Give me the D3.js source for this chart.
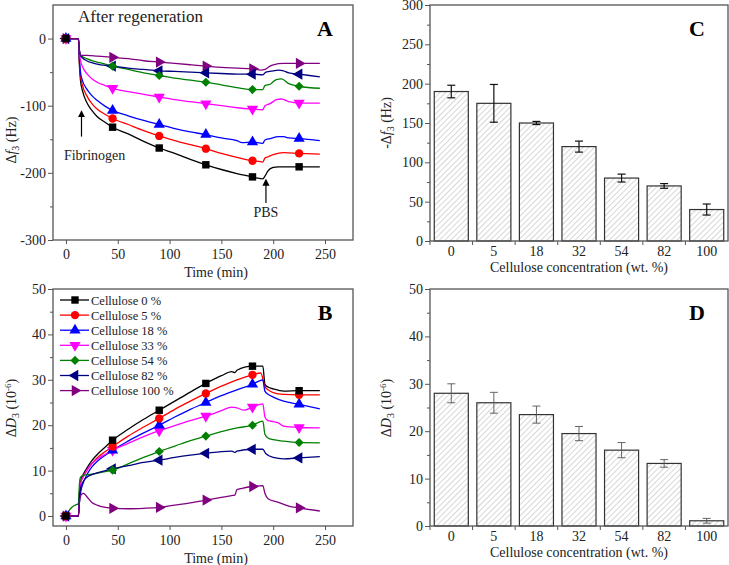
<!DOCTYPE html>
<html lang="en">
<head>
<meta charset="UTF-8">
<script src="https://d3js.org/d3.v7.min.js"></script>
<title>QCM-D after regeneration</title>
<style>
  body { margin: 0; background: #fff; }
  svg, svg text { font-family: "Liberation Serif", "Times New Roman", Times, "DejaVu Serif", serif; }
</style>
</head>
<body>
<div id="wrapper"></div>
<script>
// ---- data ----
const seriesNames = ["Cellulose 0 %", "Cellulose 5 %", "Cellulose 18 %", "Cellulose 33 %",
                     "Cellulose 54 %", "Cellulose 82 %", "Cellulose 100 %"];
const seriesColors = ["#000000", "#ff0000", "#0000ff", "#ff00ff", "#008000", "#000080", "#800080"];
const seriesSymbols = ["square", "circle", "triUp", "triDown", "diamond", "triLeft", "triRight"];
const markerTimes = [0, 45, 90, 135, 180, 225];

// panel A: delta f3 (Hz) vs time (min)
const freq0 = [[0,0],[12,0],[13,-40],[14,-62],[16,-78],[20,-95],[25,-107],[30,-116],[38,-125],[45,-132],[60,-142],[75,-153],[90,-163],[105,-171],[120,-180],[135,-188],[150,-195],[165,-201],[180,-206],[185,-208],[190,-209],[192,-205],[195,-197],[200,-192],[205,-191],[225,-191],[245,-191]];
const freq5 = [[0,0],[12,0],[13,-35],[14,-55],[16,-70],[20,-85],[25,-97],[30,-105],[38,-113],[45,-119],[60,-128],[75,-137],[90,-145],[105,-152],[120,-158],[135,-164],[150,-171],[165,-177],[180,-182],[186,-183],[190,-184],[192,-178],[195,-176],[200,-173],[210,-170],[225,-171],[245,-172]];
const freq18 = [[0,0],[12,0],[13,-30],[14,-50],[16,-63],[20,-75],[25,-85],[30,-92],[38,-101],[45,-107],[60,-115],[75,-122],[90,-128],[105,-134],[120,-139],[135,-143],[150,-148],[165,-152],[170,-155],[180,-154],[190,-156],[192,-151],[197,-149],[205,-146],[210,-146],[215,-148],[225,-149],[245,-152]];
const freq33 = [[0,0],[12,0],[13,-20],[14,-32],[16,-42],[20,-52],[25,-60],[30,-65],[38,-70],[45,-74],[60,-79],[75,-83],[90,-87],[105,-91],[120,-94],[135,-97],[150,-100],[165,-103],[180,-105],[190,-106],[192,-100],[197,-97],[203,-91],[208,-90],[215,-94],[225,-96],[245,-96]];
const freq54 = [[0,0],[12,0],[13,-18],[14,-25],[16,-27],[20,-30],[25,-33],[30,-35],[38,-38],[45,-41],[60,-46],[75,-51],[90,-55],[105,-59],[120,-62],[135,-65],[150,-69],[165,-73],[180,-76],[190,-76],[192,-70],[197,-68],[203,-61],[208,-60],[215,-67],[225,-71],[245,-74]];
const freq82 = [[0,0],[12,0],[13,-18],[14,-25],[16,-29],[20,-33],[25,-36],[30,-38],[38,-40],[45,-41],[60,-44],[75,-46],[90,-48],[105,-49],[120,-50],[135,-51],[150,-52],[165,-53],[180,-53],[190,-54],[193,-50],[200,-48],[205,-47],[210,-48],[215,-51],[225,-53],[245,-57]];
const freq100 = [[0,0],[12,0],[13,-18],[14,-24],[16,-25],[20,-25],[30,-26],[45,-28],[60,-30],[75,-33],[90,-35],[105,-37],[120,-39],[135,-41],[150,-43],[165,-44],[180,-45],[188,-47],[192,-46],[196,-42],[200,-39],[210,-37],[225,-37],[245,-37]];

// panel B: delta D3 (1e-6) vs time (min)
const diss0 = [[0,0],[12,0],[13,5],[14,7.5],[17,9.3],[20,10.5],[25,12.2],[30,13.5],[38,15.2],[45,16.7],[60,19.1],[75,21.3],[90,23.3],[105,25.3],[120,27.3],[135,29.2],[150,30.9],[160,31.8],[163,31.6],[165,32.1],[180,33.0],[190,33.0],[192,29],[195,28.4],[200,28],[210,27.5],[225,27.6],[245,27.6]];
const diss5 = [[0,0],[12,0],[13,5],[14,7.3],[17,8.8],[20,10],[25,11.6],[30,12.8],[38,14.2],[45,15.3],[60,17.6],[75,19.6],[90,21.5],[105,23.5],[120,25.3],[135,27],[150,28.6],[165,30],[180,31.1],[188,31.5],[192,28.5],[195,27.8],[200,27.2],[210,26.8],[225,26.7],[245,26.7]];
const diss18 = [[0,0],[12,0],[13,3],[14,5],[17,7.5],[20,9],[25,10.8],[30,12],[38,13.4],[45,14.5],[60,16.5],[75,18.3],[90,20],[105,21.8],[120,23.5],[135,25],[150,26.5],[165,27.8],[180,29],[190,30],[192,27.5],[195,26.8],[200,26.2],[210,25.3],[225,24.6],[245,23.6]];
const diss33 = [[0,0],[12,0],[13,5],[14,7],[17,8.8],[20,10],[25,11.5],[30,12.5],[38,13.6],[45,14.5],[60,16],[75,17.5],[90,18.8],[105,19.9],[120,21],[135,22],[150,23.2],[160,24],[165,23.8],[172,23.3],[180,24],[190,24.7],[192,21.8],[195,21],[200,20.8],[205,20.5],[210,19.8],[225,19.5],[245,19.4]];
const diss54 = [[0,0],[3,1.2],[6,2],[10,2.5],[12,2.7],[13,7],[14,8.5],[17,9],[25,9.2],[30,9.4],[38,9.8],[45,10.1],[60,11.5],[75,12.9],[90,14.2],[105,15.4],[120,16.6],[135,17.6],[150,18.6],[165,19.4],[180,20],[190,20.9],[192,18],[195,17.2],[200,16.8],[210,16.5],[225,16.2],[245,16.1]];
const diss82 = [[0,0],[12,0],[13,4],[14,6],[17,7.7],[20,8.5],[25,9.1],[30,9.5],[38,10],[45,10.4],[60,11.1],[75,11.8],[90,12.3],[105,12.9],[120,13.4],[135,13.8],[150,14.2],[160,14.3],[163,14],[165,14.3],[180,14.7],[190,14.7],[193,13.7],[200,12.9],[210,12.6],[225,12.8],[245,13.1]];
const diss100 = [[0,0],[12,0],[13,3],[15,4.8],[17,5],[20,4.3],[25,3],[30,2.4],[38,1.9],[45,1.7],[60,1.6],[75,1.7],[90,1.9],[105,2.4],[120,2.9],[135,3.5],[150,4.1],[160,4.5],[163,4.6],[165,5.8],[170,6.1],[180,6.5],[190,6.7],[192,5],[195,3.8],[205,3],[215,2.2],[225,1.8],[245,1.1]];

// panels C and D: bars
const barCategories = ["0", "5", "18", "32", "54", "82", "100"];
const freqShift = [190, 175, 150, 120, 80, 70, 40];
const freqErr = [8, 24, 2, 7, 5, 3, 7];
const dissShift = [28, 26, 23.5, 19.5, 16, 13.2, 1.1];
const dissErr = [2, 2.2, 1.8, 1.5, 1.6, 0.8, 0.5];

const timeTicks = [0, 50, 100, 150, 200, 250];

const FONT = '"Liberation Serif", "Times New Roman", Times, "DejaVu Serif", serif';

const svg = d3.select("#wrapper").append("svg")
  .attr("width", 729).attr("height", 565)
  .attr("font-family", FONT);

// hatch pattern for bars
svg.append("defs").append("pattern")
  .attr("id", "hatch").attr("patternUnits", "userSpaceOnUse")
  .attr("width", 4).attr("height", 4)
  .attr("patternTransform", "rotate(45)")
  .append("line")
    .attr("x1", 0).attr("y1", 0).attr("x2", 0).attr("y2", 4)
    .attr("stroke", "#9a9a9a").attr("stroke-width", 0.8);

const frameColor = "#555";

function symbolPath(name, size) {
  const tri = d3.symbol(d3.symbolTriangle, size)();
  const sq = d3.symbol(d3.symbolSquare, size)();
  switch (name) {
    case "square": return {d: sq, rot: 0};
    case "circle": return {d: d3.symbol(d3.symbolCircle, size)(), rot: 0};
    case "triUp": return {d: tri, rot: 0};
    case "triDown": return {d: tri, rot: 180};
    case "diamond": return {d: d3.symbol(d3.symbolSquare, size * 0.75)(), rot: 45};
    case "triLeft": return {d: tri, rot: -90};
    case "triRight": return {d: tri, rot: 90};
  }
}

function styleAxis(g) {
  g.attr("font-family", FONT).attr("font-size", 14);
  g.select(".domain").remove();
  g.selectAll("line").attr("stroke", frameColor).attr("stroke-width", 1);
  g.selectAll("text").attr("fill", "#222");
}

function drawFrame(x0, y0, x1, y1) {
  svg.append("rect")
    .attr("x", x0).attr("y", y0).attr("width", x1 - x0).attr("height", y1 - y0)
    .attr("fill", "none").attr("stroke", frameColor).attr("stroke-width", 1.3);
}

function yAxes(yScale, left, major, minor, fmt) {
  const gMinor = svg.append("g").attr("transform", `translate(${left},0)`)
    .call(d3.axisLeft(yScale).tickValues(minor).tickSize(3).tickFormat(""));
  styleAxis(gMinor);
  const gMajor = svg.append("g").attr("transform", `translate(${left},0)`)
    .call(d3.axisLeft(yScale).tickValues(major).tickSize(5).tickPadding(2).tickFormat(fmt || (d => String(d))));
  styleAxis(gMajor);
}

function panelLetter(txt, x, y) {
  svg.append("text").attr("x", x).attr("y", y)
    .attr("text-anchor", "middle")
    .attr("font-size", 22).attr("font-weight", "bold")
    .text(txt);
}

// y label with subscripts etc, rotated
function yLabel(x, y, parts) {
  const t = svg.append("text")
    .attr("transform", `translate(${x},${y}) rotate(-90)`)
    .attr("text-anchor", "middle")
    .attr("font-size", 14).attr("fill", "#222");
  parts.forEach(p => {
    const s = t.append("tspan").text(p.t);
    if (p.i) s.attr("font-style", "italic");
    if (p.dy) s.attr("dy", p.dy);
    if (p.fs) s.attr("font-size", p.fs);
  });
}

function xLabel(x, y, txt) {
  svg.append("text").attr("x", x).attr("y", y)
    .attr("text-anchor", "middle").attr("font-size", 14).attr("fill", "#222")
    .text(txt);
}

function drawTimePanel(p) {
  const xScale = d3.scaleLinear().domain([-12.5, 277]).range([p.left, p.right]);
  const yScale = d3.scaleLinear().domain(p.yDomain).range([p.bottom, p.top]);

  // clip to frame
  const clipId = "clip" + p.letter;
  svg.append("clipPath").attr("id", clipId).append("rect")
    .attr("x", p.left).attr("y", p.top).attr("width", p.right - p.left).attr("height", p.bottom - p.top);

  const line = d3.line()
    .x(d => xScale(d[0])).y(d => yScale(d[1]))
    .curve(d3.curveMonotoneX);

  const plot = svg.append("g").attr("clip-path", `url(#${clipId})`);
  p.series.forEach((s, i) => {
    plot.append("path").datum(s)
      .attr("d", line).attr("fill", "none")
      .attr("stroke", seriesColors[i]).attr("stroke-width", 1.3);
  });
  // markers, drawn in reverse so black ends up on top
  for (let i = p.series.length - 1; i >= 0; i--) {
    const s = p.series[i];
    const sym = symbolPath(seriesSymbols[i], 55);
    markerTimes.forEach(t => {
      const pt = s.find(d => d[0] === t);
      if (!pt) return;
      plot.append("path").attr("d", sym.d)
        .attr("transform", `translate(${xScale(pt[0])},${yScale(pt[1])}) rotate(${sym.rot})`)
        .attr("fill", seriesColors[i]);
    });
  }

  const gx = svg.append("g").attr("transform", `translate(0,${p.bottom})`)
    .call(d3.axisBottom(xScale).tickValues(timeTicks).tickSize(4).tickPadding(5).tickSizeOuter(0));
  styleAxis(gx);
  yAxes(yScale, p.left, p.yMajor, p.yMinor);
  drawFrame(p.left, p.top, p.right, p.bottom);
  xLabel((p.left + p.right) / 2 + 13, p.bottom + 37, "Time (min)");
  return {xScale, yScale};
}

function drawBarPanel(p) {
  const xScale = d3.scaleBand().domain(barCategories).range([p.left, p.right])
    .paddingInner(0.2).paddingOuter(0.1);
  const yScale = d3.scaleLinear().domain(p.yDomain).range([p.bottom, p.top]);

  svg.append("g").selectAll("rect")
    .data(p.values)
    .join("rect")
      .attr("x", (d, i) => xScale(barCategories[i]))
      .attr("y", d => yScale(d))
      .attr("width", xScale.bandwidth())
      .attr("height", d => yScale(0) - yScale(d))
      .attr("fill", "url(#hatch)")
      .attr("stroke", "#333").attr("stroke-width", 1.2);

  // error bars
  const eb = svg.append("g").attr("stroke", p.errColor).attr("stroke-width", p.errWidth);
  p.values.forEach((v, i) => {
    const cx = xScale(barCategories[i]) + xScale.bandwidth() / 2;
    const lo = yScale(v - p.errors[i]), hi = yScale(v + p.errors[i]);
    eb.append("line").attr("x1", cx).attr("x2", cx).attr("y1", lo).attr("y2", hi);
    eb.append("line").attr("x1", cx - 4).attr("x2", cx + 4).attr("y1", lo).attr("y2", lo);
    eb.append("line").attr("x1", cx - 4).attr("x2", cx + 4).attr("y1", hi).attr("y2", hi);
  });

  // x axis: labels under bars, ticks between bars
  const gx = svg.append("g").attr("transform", `translate(0,${p.bottom})`)
    .call(d3.axisBottom(xScale).tickSize(0).tickPadding(5));
  styleAxis(gx);
  const gap = xScale.step() * xScale.paddingInner() / 2;
  svg.append("g").selectAll("line")
    .data(barCategories)
    .join("line")
      .attr("x1", d => xScale(d) - gap).attr("x2", d => xScale(d) - gap)
      .attr("y1", p.bottom).attr("y2", p.bottom + 4)
      .attr("stroke", frameColor);

  yAxes(yScale, p.left, p.yMajor, p.yMinor);
  drawFrame(p.left, p.top, p.right, p.bottom);
  xLabel((p.left + p.right) / 2, p.bottom + 31, "Cellulose concentration (wt. %)");
}

// ---- panel A ----
const A = drawTimePanel({
  letter: "A", left: 53, right: 353, top: 5, bottom: 240,
  yDomain: [-300, 50], yMajor: [-300, -200, -100, 0], yMinor: [-250, -150, -50],
  series: [freq0, freq5, freq18, freq33, freq54, freq82, freq100]
});
panelLetter("A", 325, 36);
svg.append("text").attr("x", 78).attr("y", 22).attr("font-size", 17).attr("fill", "#222")
  .text("After regeneration");
yLabel(16, 140, [{t: "\u0394"}, {t: "f", i: true}, {t: "3", dy: 3, fs: 10}, {t: " (Hz)", dy: -3}]);

// annotation arrows
svg.append("defs").append("marker")
  .attr("id", "arrowHead").attr("viewBox", "0 0 10 10").attr("refX", 5).attr("refY", 5)
  .attr("markerWidth", 6).attr("markerHeight", 8).attr("orient", "auto")
  .append("path").attr("d", "M0,0 L10,5 L0,10 z").attr("fill", "#000");

function annotArrow(scales, t, v0, v1) {
  svg.append("line")
    .attr("x1", scales.xScale(t)).attr("x2", scales.xScale(t))
    .attr("y1", scales.yScale(v0)).attr("y2", scales.yScale(v1))
    .attr("stroke", "#000").attr("stroke-width", 1.2)
    .attr("marker-end", "url(#arrowHead)");
}
annotArrow(A, 15, -146, -112);
svg.append("text").attr("x", A.xScale(-2)).attr("y", A.yScale(-181))
  .attr("font-size", 14).attr("fill", "#222").text("Fibrinogen");
annotArrow(A, 193, -245, -214);
svg.append("text").attr("x", A.xScale(193)).attr("y", A.yScale(-266))
  .attr("text-anchor", "middle").attr("font-size", 14).attr("fill", "#222").text("PBS");

// ---- panel B ----
const B = drawTimePanel({
  letter: "B", left: 53, right: 353, top: 289, bottom: 526,
  yDomain: [-2.2, 50], yMajor: [0, 10, 20, 30, 40, 50], yMinor: [5, 15, 25, 35, 45],
  series: [diss0, diss5, diss18, diss33, diss54, diss82, diss100]
});
panelLetter("B", 325, 320);
yLabel(16, 408, [{t: "\u0394"}, {t: "D", i: true}, {t: "3", dy: 3, fs: 10},
                 {t: " (10", dy: -3}, {t: "-6", dy: -5, fs: 9}, {t: ")", dy: 5}]);

// legend
const legend = svg.append("g").attr("transform", "translate(60,300)");
seriesNames.forEach((name, i) => {
  const row = legend.append("g").attr("transform", `translate(0,${i * 15.1})`);
  row.append("line").attr("x1", 0).attr("x2", 29).attr("y1", 0).attr("y2", 0)
    .attr("stroke", seriesColors[i]).attr("stroke-width", 1.3);
  const sym = symbolPath(seriesSymbols[i], 55);
  row.append("path").attr("d", sym.d)
    .attr("transform", `translate(15,0) rotate(${sym.rot})`).attr("fill", seriesColors[i]);
  row.append("text").attr("x", 31).attr("y", 4.5).attr("font-size", 12.5).attr("fill", "#222")
    .text(name);
});

// ---- panel C ----
drawBarPanel({
  left: 430, right: 728, top: 5, bottom: 241,
  yDomain: [0, 300], yMajor: [0, 50, 100, 150, 200, 250, 300], yMinor: [25, 75, 125, 175, 225, 275],
  values: freqShift, errors: freqErr, errColor: "#111", errWidth: 1.2
});
panelLetter("C", 697, 36);
yLabel(391, 123, [{t: "-\u0394"}, {t: "f", i: true}, {t: "3", dy: 3, fs: 10}, {t: " (Hz)", dy: -3}]);

// ---- panel D ----
drawBarPanel({
  left: 430, right: 728, top: 289, bottom: 526,
  yDomain: [0, 50], yMajor: [0, 10, 20, 30, 40, 50], yMinor: [5, 15, 25, 35, 45],
  values: dissShift, errors: dissErr, errColor: "#555", errWidth: 0.9
});
panelLetter("D", 697, 320);
yLabel(391, 408, [{t: "\u0394"}, {t: "D", i: true}, {t: "3", dy: 3, fs: 10},
                  {t: " (10", dy: -3}, {t: "-6", dy: -5, fs: 9}, {t: ")", dy: 5}]);
</script>
</body>
</html>
